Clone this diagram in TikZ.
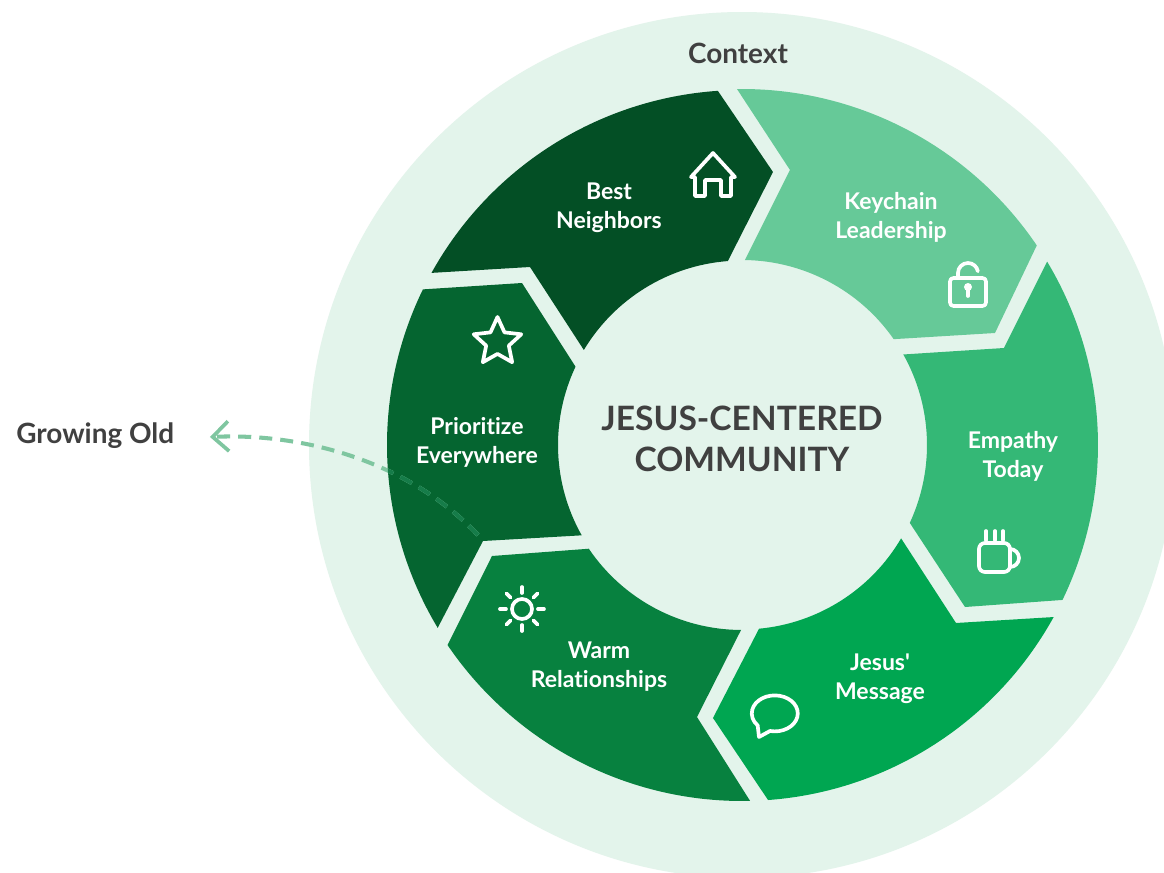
\documentclass[tikz,border=0pt]{standalone}
\usepackage{fontspec}
\newfontfamily\lblfont{Lato}[Ligatures=NoCommon]
\usetikzlibrary{shapes.geometric,arrows.meta}
\definecolor{ringbg}{HTML}{E3F4EB}
\definecolor{bestcol}{HTML}{034F25}
\definecolor{keycol}{HTML}{66C998}
\definecolor{empathycol}{HTML}{34B876}
\definecolor{msgcol}{HTML}{00A651}
\definecolor{warmcol}{HTML}{07813F}
\definecolor{priorcol}{HTML}{056530}
\definecolor{dashcol}{HTML}{7FC6A0}
\definecolor{dashdark}{HTML}{167C49}
\definecolor{inkcol}{HTML}{404040}

\begin{document}
\begin{tikzpicture}[x=0.02cm,y=0.02cm,
    seglabel/.style={text=white,align=center,inner sep=0pt,font=\lblfont\bfseries\fontsize{13.1}{16.4}\selectfont},
    inklabel/.style={text=inkcol,inner sep=0pt,font=\lblfont\bfseries\fontsize{15.9}{18}\selectfont},
    icon/.style={draw=white,line width=2.1pt,line join=round,line cap=round},
    dashline/.style={line width=2.3pt,dash pattern=on 7.4pt off 4.6pt,-{Straight Barb[length=9pt,width=17pt,line width=2.1pt]}}]
\useasboundingbox (-742,-428) rectangle (422,445);
\clip (-742,-428) rectangle (422,445);
\fill[white] (-742,-428) rectangle (422,445);
\fill[ringbg] (0,0) circle (433);

\fill[bestcol] (151:355) arc[start angle=151,end angle=93.9,radius=355] -- (31,273)
    -- (94.4:184.5) arc[start angle=94.4,end angle=149,radius=184.5] -- (-212,178) -- cycle;
\fill[keycol] (90.8:356) arc[start angle=90.8,end angle=34.1,radius=356] -- (253,112)
    -- (34.9:185) arc[start angle=34.9,end angle=89.1,radius=185] -- (48,275) -- cycle;
\fill[empathycol] (31:356) arc[start angle=31,end angle=-25.8,radius=356] -- (223,-162)
    -- (-24.9:185) arc[start angle=-24.9,end angle=29.3,radius=185] -- (262,97) -- cycle;
\fill[msgcol] (-28.9:356) arc[start angle=-28.9,end angle=-85.8,radius=356] -- (-29,-273)
    -- (-84.7:184.5) arc[start angle=-84.7,end angle=-30.4,radius=184.5] -- (214,-178) -- cycle;
\fill[warmcol] (-88.7:356) arc[start angle=-88.7,end angle=-145.8,radius=356] -- (-250,-111)
    -- (-145.9:185) arc[start angle=-145.9,end angle=-90.3,radius=185] -- (-45,-272) -- cycle;
\fill[priorcol] (154:355) arc[start angle=154,end angle=211,radius=355] -- (-259,-96)
    -- (209.4:184) arc[start angle=209.4,end angle=154.8,radius=184] -- (-220,162) -- cycle;

\node[inklabel] (ctx) at (-4,392) {Context};
\node[inklabel,anchor=west] (old) at (-726,9) {Growing Old};
\node[inklabel,align=center,font=\lblfont\bfseries\fontsize{19.1}{23.2}\selectfont] (title) at (0,6) {JESUS-CENTERED\\COMMUNITY};
\node[seglabel] (best) at (-133,237) {Best\\Neighbors};
\node[seglabel] (key) at (149,228) {Keychain\\Leadership};
\node[seglabel] (empathy) at (271,-11) {Empathy\\Today};
\node[seglabel] (message) at (138,-234) {Jesus'\\Message};
\node[seglabel] (warm) at (-143,-222) {Warm\\Relationships};
\node[seglabel] (prior) at (-265,3) {Prioritize\\Everywhere};

\coordinate (from) at (-264,-90);
\coordinate (tip) at (-532,8);
\draw[dashline,dashcol] (from) .. controls (-335,-15) and (-440,12) .. (tip);
\begin{scope}
\clip (0,0) circle (355);
\draw[dashline,dashdark] (from) .. controls (-335,-15) and (-440,12) .. (tip);
\end{scope}

\begin{scope}[shift={(-29,270)}]
\draw[icon] (-22,-2) -- (0,22) -- (22,-2) -- (18,-2) -- (18,-21) -- (8,-21) -- (8,-5)
    -- (-8,-5) -- (-8,-21) -- (-18,-21) -- (-18,-2) -- cycle;
\end{scope}
\begin{scope}[shift={(226,153)}]
\draw[icon,rounded corners=0.07cm] (-18,-14) rectangle (18,14);
\draw[icon] (-10,14) -- (-10,19) arc[start angle=180,end angle=10,radius=10];
\fill[white] (0,5) circle (4);
\draw[icon] (0,5) -- (0,-4);
\end{scope}
\begin{scope}[shift={(253,-112)}]
\draw[icon,rounded corners=0.12cm] (-16,14) -- (15,14) -- (15,-15) -- (-16,-15) -- cycle;
\draw[icon] (15,8) arc[start angle=90,end angle=-90,radius=9];
\draw[icon] (-9,26) -- (-9,17);
\draw[icon] (0,26) -- (0,17);
\draw[icon] (8,26) -- (8,17);
\end{scope}
\begin{scope}[shift={(33,-268)}]
\draw[icon] (-5,-18) arc[start angle=258,end angle=582,x radius=23,y radius=18] -- (-16,-24) -- cycle;
\end{scope}
\begin{scope}[shift={(-220,-164)}]
\draw[icon] (0,0) circle (10);
\foreach \ang in {0,45,...,315}
    \draw[icon] (\ang:16) -- (\ang:22);
\end{scope}
\node[icon,star,star points=5,star point ratio=2.1,minimum size=1.0cm,inner sep=0pt] (staricon) at (-244.5,103) {};
\end{tikzpicture}
\end{document}
